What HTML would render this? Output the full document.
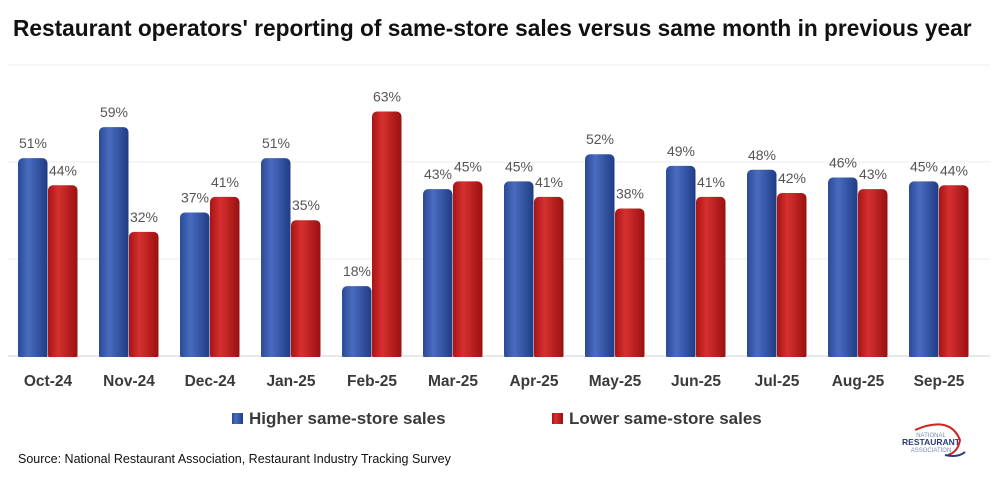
<!DOCTYPE html>
<html><head><meta charset="utf-8"><style>
body{margin:0;background:#fff;width:1006px;height:485px;overflow:hidden;font-family:"Liberation Sans",sans-serif}
</style></head><body>
<svg width="1006" height="485" xmlns="http://www.w3.org/2000/svg" font-family="Liberation Sans, sans-serif">
<defs>
<linearGradient id="b" x1="0" x2="1"><stop offset="0" stop-color="#2a4a96"/><stop offset="0.35" stop-color="#4a6cc0"/><stop offset="1" stop-color="#1f3c85"/></linearGradient>
<linearGradient id="r" x1="0" x2="1"><stop offset="0" stop-color="#a81414"/><stop offset="0.35" stop-color="#d63030"/><stop offset="1" stop-color="#9a1010"/></linearGradient>
</defs>
<text x="13" y="36" font-size="22.7" font-weight="bold" fill="#111">Restaurant operators' reporting of same-store sales versus same month in previous year</text>
<g stroke="#ececec" stroke-width="1"><line x1="8" x2="990" y1="65" y2="65"/><line x1="8" x2="990" y1="162" y2="162"/><line x1="8" x2="990" y1="259" y2="259"/></g>
<line x1="8" x2="990" y1="356" y2="356" stroke="#d0d0d0"/>
<g id="bars"></g>
<g font-size="15.5" fill="#3a3a3a" font-weight="bold" text-anchor="middle" id="labels"></g>
<rect x="232" y="413" width="11" height="11" fill="url(#b)"/>
<text x="249" y="424" font-size="17" font-weight="bold" fill="#3a3a3a">Higher same-store sales</text>
<rect x="552" y="413" width="11" height="11" fill="url(#r)"/>
<text x="569" y="424" font-size="17" font-weight="bold" fill="#3a3a3a">Lower same-store sales</text>
<text x="18" y="463" font-size="12.5" fill="#111">Source: National Restaurant Association, Restaurant Industry Tracking Survey</text>
<text x="931" y="437" font-size="6" fill="#7a8ab0" text-anchor="middle">NATIONAL</text>
<text x="931" y="445" font-size="8.5" font-weight="bold" fill="#2a3c7a" text-anchor="middle">RESTAURANT</text>
<text x="931" y="452" font-size="6" fill="#7a8ab0" text-anchor="middle">ASSOCIATION</text>
<path d="M915 430 Q950 415 960 440 Q958 452 948 455" stroke="#d02020" stroke-width="2" fill="none"/>
<path d="M945 455 Q958 458 965 452" stroke="#2a3c7a" stroke-width="2" fill="none"/>
</svg>
<script>
var m=["Oct-24","Nov-24","Dec-24","Jan-25","Feb-25","Mar-25","Apr-25","May-25","Jun-25","Jul-25","Aug-25","Sep-25"];
var h=[51,59,37,51,18,43,45,52,49,48,46,45],l=[44,32,41,35,63,45,41,38,41,42,43,44];
var ns="http://www.w3.org/2000/svg",B=document.getElementById("bars"),L=document.getElementById("labels");
function el(p,t,a,tx){var e=document.createElementNS(ns,t);for(var k in a)e.setAttribute(k,a[k]);if(tx)e.textContent=tx;p.appendChild(e);}
for(var i=0;i<12;i++){var x=18+81*i;
[[h[i],x,"b"],[l[i],x+30,"r"]].forEach(function(d){var y=356-d[0]*3.88;
el(B,"rect",{x:d[1],y:y,width:29.5,height:356-y+4,rx:5,fill:"url(#"+d[2]+")"});
el(L,"text",{x:d[1]+15,y:y-10,"font-weight":"normal","font-size":"14",fill:"#555"},d[0]+"%");});
el(L,"text",{x:x+30,y:386},m[i]);}
el(B,"rect",{x:0,y:357,width:1006,height:6,fill:"#fff"});
</script>
</body></html>
